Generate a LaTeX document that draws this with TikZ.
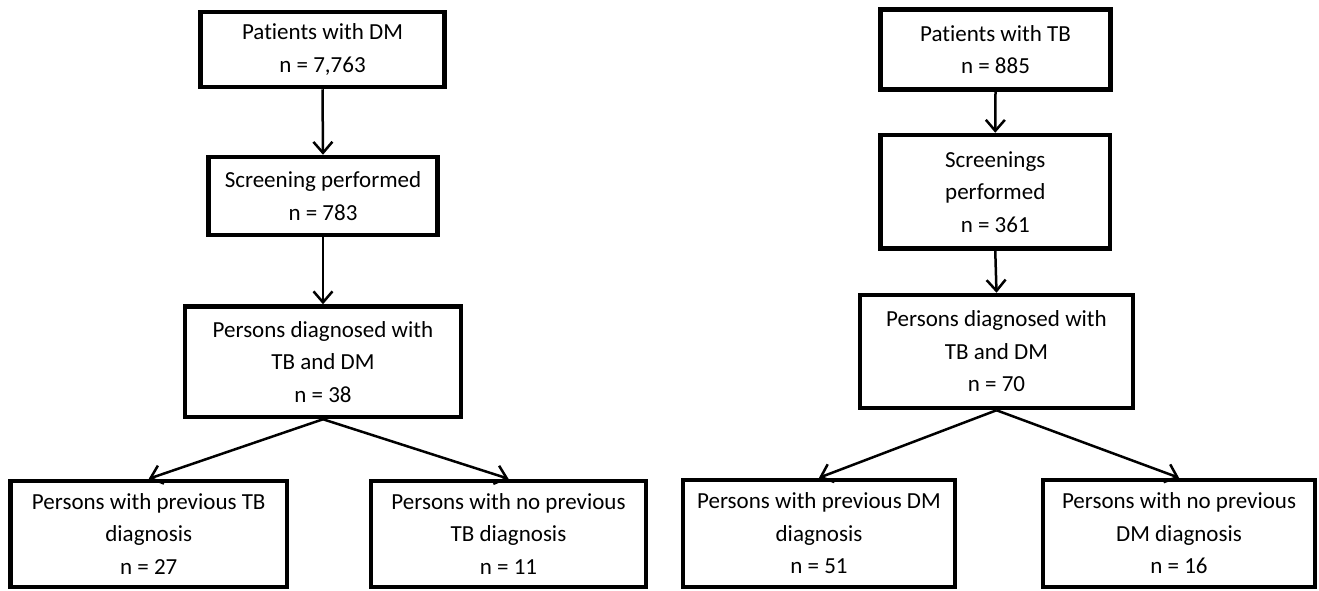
\documentclass[tikz,border=0pt]{standalone}
\usepackage{fontspec}
\setmainfont[Ligatures={NoCommon}]{Carlito}
\usetikzlibrary{arrows.meta}
\tikzset{
  box/.style={draw=black, line width=4.5pt, rectangle, inner sep=0pt, align=center,
    font=\fontsize{23}{32.5}\selectfont, fill=white},
  arr/.style={line width=2.5pt, -{Straight Barb[length=11pt,width=19pt]}}
}
\begin{document}
\begin{tikzpicture}[x=1pt,y=-1pt]
\useasboundingbox[fill=white] (0,0) rectangle (1319,590);
% left flow
\node[box, minimum width=244pt, minimum height=75pt] (A) at (322.5,49.5) {Patients with DM\\n = 7,763};
\node[box, minimum width=229pt, minimum height=78pt] (B) at (323,196) {Screening performed\\n = 783};
\node[box, minimum width=276pt, minimum height=110.5pt] (C) at (323,361.75) {Persons diagnosed with\\TB and DM\\n = 38};
\node[box, minimum width=276.5pt, minimum height=106pt] (D) at (148.75,534) {Persons with previous TB\\diagnosis\\n = 27};
\node[box, minimum width=275pt, minimum height=106pt] (E) at (508.5,534) {Persons with no previous\\TB diagnosis\\n = 11};
% right flow
\node[box, minimum width=230pt, minimum height=80pt] (F) at (995.5,49.5) {Patients with TB\\n = 885};
\node[box, minimum width=229.5pt, minimum height=113.5pt] (G) at (995.25,191.75) {Screenings\\performed\\n = 361};
\node[box, minimum width=273pt, minimum height=113pt] (H) at (996.5,351.5) {Persons diagnosed with\\TB and DM\\n = 70};
\node[box, minimum width=272pt, minimum height=107pt] (I) at (819,533.5) {Persons with previous DM\\diagnosis\\n = 51};
\node[box, minimum width=272pt, minimum height=107pt] (J) at (1179,533.5) {Persons with no previous\\DM diagnosis\\n = 16};
% connectors
\draw[arr] (A.south) -- (B.north);
\draw[arr] (B.south) -- (C.north);
\draw[arr] (C.south) -- (D.north);
\draw[arr] (C.south) -- (E.north);
\draw[arr] (F.south) -- (G.north);
\draw[arr] (G.south) -- (H.north);
\draw[arr] (H.south) -- (I.north);
\draw[arr] (H.south) -- (J.north);
\end{tikzpicture}
\end{document}
